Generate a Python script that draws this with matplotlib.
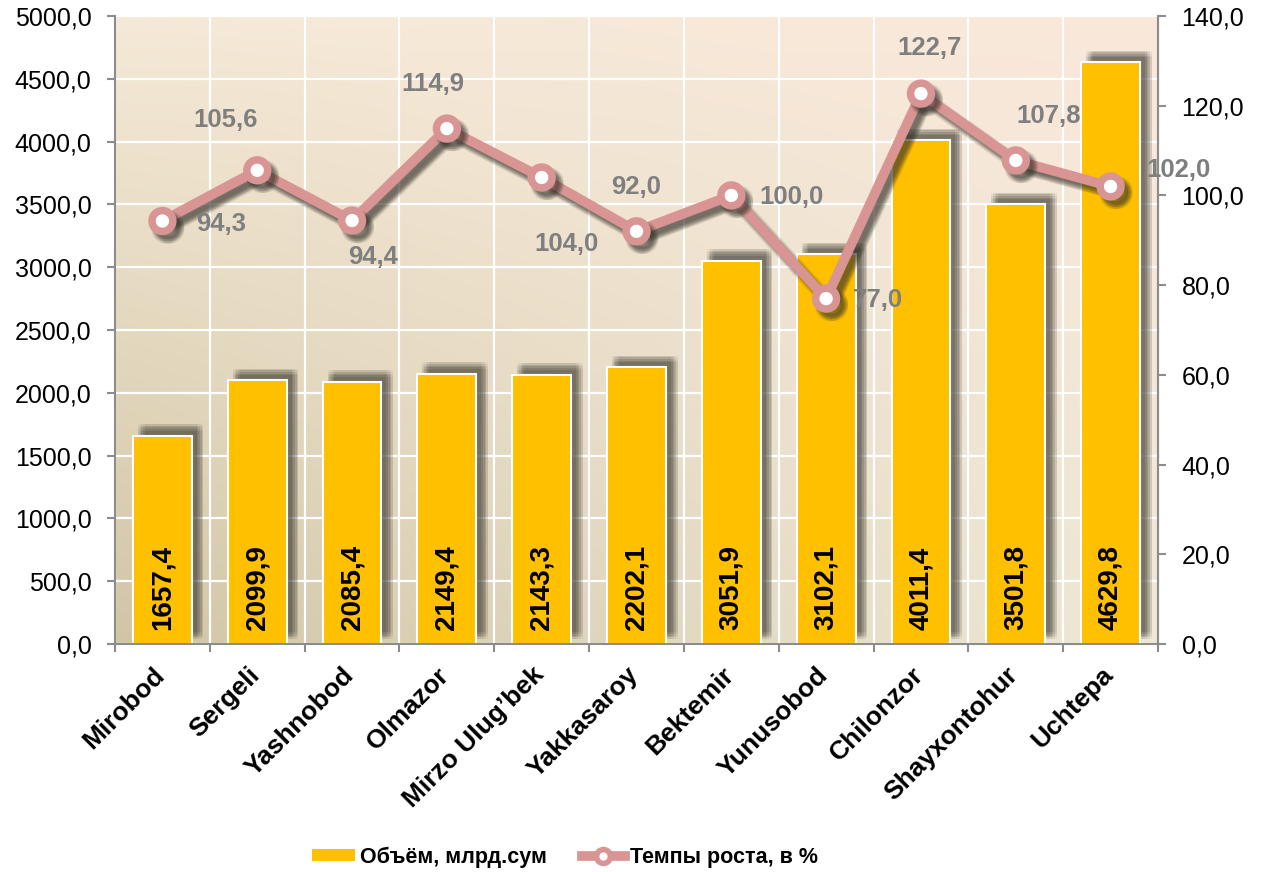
import numpy as np
import matplotlib
matplotlib.use('Agg')
import matplotlib.pyplot as plt
import matplotlib.patheffects as pe
import matplotlib.transforms as mtransforms
from matplotlib.ticker import FuncFormatter, MultipleLocator, FixedLocator
from matplotlib.lines import Line2D
from matplotlib.patches import Patch
from matplotlib.colors import to_rgb

plt.rcParams['font.family'] = ['Liberation Sans', 'DejaVu Sans']

# ---------------- data ----------------
districts = ["Mirobod", "Sergeli", "Yashnobod", "Olmazor", "Mirzo Ulug\u2019bek",
             "Yakkasaroy", "Bektemir", "Yunusobod", "Chilonzor", "Shayxontohur", "Uchtepa"]
volume = [1657.4, 2099.9, 2085.4, 2149.4, 2143.3, 2202.1, 3051.9, 3102.1, 4011.4, 3501.8, 4629.8]
growth = [94.3, 105.6, 94.4, 114.9, 104.0, 92.0, 100.0, 77.0, 122.7, 107.8, 102.0]
bar_name = "Объём, млрд.сум"
line_name = "Темпы роста, в %"

# label placement (offset points) for growth labels
growth_label_offsets = [(42, -2), (-23, 36), (15, -26), (-10, 32), (18, -48), (0, 32),
                        (43, -1), (37, -1), (6, 33), (24, 32), (49, 12)]

BAR_COLOR = '#FFC000'
LINE_COLOR = '#D99594'
SPINE = '#8C8C8C'

def fmt(v, _=None):
    return f"{v:.1f}".replace('.', ',')

W, H = 1264, 872
fig = plt.figure(figsize=(W / 100, H / 100), dpi=100)
fig.patch.set_facecolor('white')
L, R, T, B = 115, 1158, 16, 644
ax = fig.add_axes([L / W, 1 - B / H, (R - L) / W, (B - T) / H])

# background gradient
tl, tr = np.array(to_rgb('#F5EAD7')), np.array(to_rgb('#FAE8DB'))
bl, br = np.array(to_rgb('#D2C5A6')), np.array(to_rgb('#EFE9D7'))
ny, nx = 200, 300
yy, xx = np.mgrid[0:1:ny * 1j, 0:1:nx * 1j]  # yy: 0 top -> 1 bottom
img = ((1 - yy)[..., None] * ((1 - xx)[..., None] * tl + xx[..., None] * tr)
       + yy[..., None] * ((1 - xx)[..., None] * bl + xx[..., None] * br))
ax.imshow(img, extent=(0, 1, 0, 1), transform=ax.transAxes, aspect='auto',
          zorder=0, interpolation='bilinear')

x = np.arange(len(districts))

# bar shadows (stacked to imitate blur)
bar_shadow = []
for dx in (-2.4, -1.2, 0, 1.2, 2.4):
    for dy in (-2.4, -1.2, 0, 1.2, 2.4):
        bar_shadow.append(pe.SimplePatchShadow(offset=(6 + dx, 6 + dy),
                                               shadow_rgbFace='#4a463c', alpha=0.045))
bar_shadow.append(pe.Normal())

bars = ax.bar(x, volume, width=0.62, color=BAR_COLOR, edgecolor='white',
              linewidth=1.5, zorder=2)
for b in bars:
    b.set_path_effects(bar_shadow)

for xi, v in zip(x, volume):
    ax.annotate(fmt(v), xy=(xi, 0), xytext=(0, 10), textcoords='offset points',
                rotation=90, ha='center', va='bottom', fontsize=20,
                fontweight='bold', color='black', zorder=5)

ax.set_xlim(-0.5, len(districts) - 0.5)
ax.set_ylim(0, 5000)
ax.yaxis.set_major_locator(MultipleLocator(500))
ax.yaxis.set_major_formatter(FuncFormatter(fmt))
ax.set_xticks(x)
ax.set_xticklabels(districts, rotation=45, ha='right', va='center',
                   rotation_mode='anchor', fontsize=19, fontweight='bold')
ax.xaxis.set_minor_locator(FixedLocator(np.arange(-0.5, len(districts), 1.0)))
ax.tick_params(axis='x', which='major', length=0, pad=19.5)
ax.tick_params(axis='x', which='minor', length=6, width=1.5, color=SPINE)
ax.tick_params(axis='y', length=6, width=1.5, color=SPINE, labelsize=18, pad=11)
ax.set_axisbelow(True)
ax.grid(axis='y', which='major', color='white', linewidth=1.6, zorder=0.5)
ax.grid(axis='x', which='minor', color='white', linewidth=1.6, zorder=0.5)
ax.grid(axis='x', which='major', visible=False)
for s in ('left', 'bottom', 'right'):
    ax.spines[s].set_color(SPINE)
    ax.spines[s].set_linewidth(1.5)
ax.spines['top'].set_visible(False)

# secondary axis
ax2 = ax.twinx()
ax2.set_ylim(0, 140)
ax2.yaxis.set_major_locator(MultipleLocator(20))
ax2.yaxis.set_major_formatter(FuncFormatter(fmt))
ax2.tick_params(axis='y', length=6, width=1.5, color=SPINE, labelsize=18, pad=11)
for s in ('left', 'bottom', 'top'):
    ax2.spines[s].set_visible(False)
ax2.spines['right'].set_color(SPINE)
ax2.spines['right'].set_linewidth(1.5)

line_shadow = []
for dx in (-1.5, 0, 1.5):
    for dy in (-1.5, 0, 1.5):
        line_shadow.append(pe.SimpleLineShadow(offset=(4 + dx, -4.5 + dy),
                                               shadow_color='#35322a', alpha=0.11))
line_shadow.append(pe.Normal())

ax2.plot(x, growth, color=LINE_COLOR, linewidth=7, marker='o', markersize=15,
         markerfacecolor='white', markeredgecolor=LINE_COLOR, markeredgewidth=5.4,
         zorder=3, path_effects=line_shadow, solid_joinstyle='round')

for xi, v, off in zip(x, growth, growth_label_offsets):
    ax2.annotate(fmt(v), xy=(xi, v), xytext=off, textcoords='offset points',
                 ha='center', va='center', fontsize=18.5, fontweight='bold',
                 color='#7F7F7F', zorder=6)

handles = [Patch(facecolor=BAR_COLOR, edgecolor='none'),
           Line2D([], [], color=LINE_COLOR, linewidth=7, marker='o', markersize=10,
                  markerfacecolor='white', markeredgecolor=LINE_COLOR, markeredgewidth=4)]
fig.legend(handles, [bar_name, line_name], loc='center', bbox_to_anchor=(565 / W, 15 / H),
           ncol=2, frameon=False, prop={'weight': 'bold', 'size': 15.5},
           handlelength=2.0, handletextpad=0.25, columnspacing=1.6, handleheight=0.5)

# nudge category labels slightly to the left (after all tick_params calls)
shift = mtransforms.ScaledTranslation(-1.5 / 100, 0, fig.dpi_scale_trans)
for lab in ax.get_xticklabels():
    lab.set_transform(lab.get_transform() + shift)

fig.savefig('out.png', dpi=100)
